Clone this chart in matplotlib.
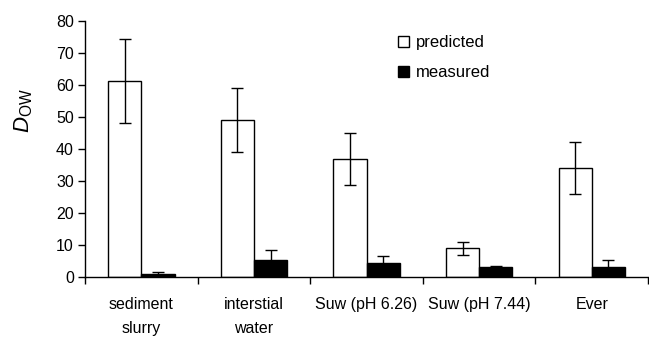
import matplotlib
matplotlib.use("Agg")
import matplotlib.pyplot as plt
import numpy as np

plt.rcParams['font.family'] = ['Liberation Sans', 'DejaVu Sans']
plt.rcParams['mathtext.fontset'] = 'custom'
plt.rcParams['mathtext.rm'] = 'Liberation Sans'
plt.rcParams['mathtext.it'] = 'Liberation Sans:italic'

categories = ["sediment\nslurry", "interstial\nwater", "Suw (pH 6.26)", "Suw (pH 7.44)", "Ever"]
predicted = [61.2, 49.0, 36.9, 9.0, 34.1]
predicted_err = [13.0, 10.0, 8.0, 2.0, 8.0]
measured = [1.0, 5.4, 4.4, 3.3, 3.3]
measured_err = [0.7, 3.0, 2.4, 0.3, 2.2]

fig = plt.figure(figsize=(6.49, 3.37), dpi=100)
ax = fig.add_axes([0.131, 0.177, 0.8675, 0.7616])

x = np.arange(len(categories))
w = 0.295
ax.bar(x - w/2, predicted, w, color='white', edgecolor='black', linewidth=1.0,
       yerr=predicted_err, capsize=4, error_kw=dict(elinewidth=1.0, capthick=1.0, ecolor='black'),
       label='predicted', zorder=2)
ax.bar(x + w/2, measured, w, color='black', edgecolor='black', linewidth=1.0,
       yerr=measured_err, capsize=4, error_kw=dict(elinewidth=1.0, capthick=1.0, ecolor='black'),
       label='measured', zorder=2)

ax.set_xlim(-0.5, len(categories) - 0.5)
ax.set_ylim(0, 80)
ax.set_yticks(np.arange(0, 81, 10))
ax.set_xticks(x)
ax.set_xticklabels(categories, fontsize=11.5, linespacing=1.75)
ax.set_xticks(np.arange(-0.5, len(categories), 1.0), minor=True)
ax.tick_params(axis='x', which='major', length=0, pad=14)
ax.tick_params(axis='x', which='minor', length=5, width=1, direction='out')
ax.tick_params(axis='y', length=5, width=1, labelsize=11.5, pad=3)
for s in ['top', 'right']:
    ax.spines[s].set_visible(False)
for s in ['left', 'bottom']:
    ax.spines[s].set_linewidth(1.0)

fig.text(24/649, 1 - 111/337, r'$\mathit{D}_{\mathrm{OW}}$', rotation=90,
         fontsize=16, ha='center', va='center')

ax.legend(loc='upper left', bbox_to_anchor=(398/649, 1 - 35/337), bbox_transform=fig.transFigure,
          frameon=False, fontsize=12, handlelength=0.65, handleheight=0.65,
          handletextpad=0.4, labelspacing=0.9, borderaxespad=0, borderpad=0)

fig.savefig("out.png", dpi=100)
